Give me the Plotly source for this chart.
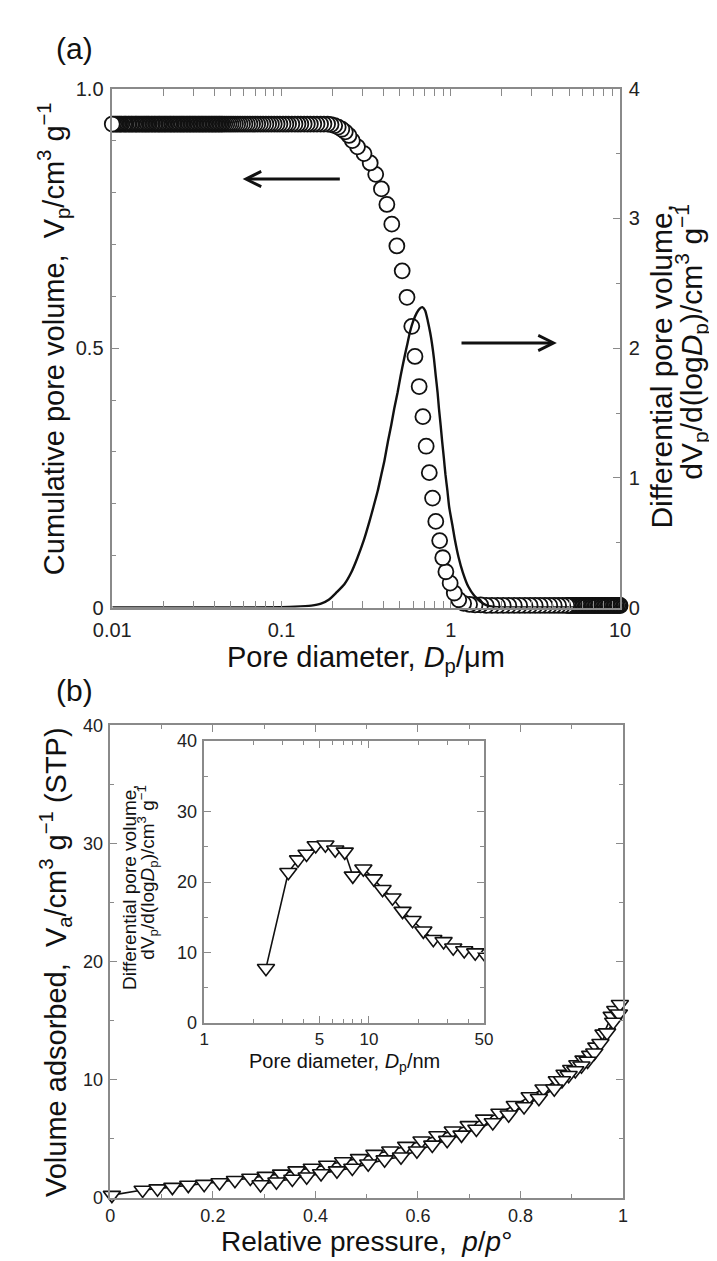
import math
import plotly.graph_objects as go

# ---------------- (a) mercury porosimetry ----------------
# cumulative pore volume (open circles), diameter in um, volume in cm3/g
hg_diam = [
    0.0100, 0.0102, 0.0104, 0.0106, 0.0108, 0.0110, 0.0112, 0.0114, 0.0117, 0.0119,
    0.0121, 0.0124, 0.0126, 0.0129, 0.0131, 0.0134, 0.0137, 0.0139, 0.0142, 0.0145,
    0.0148, 0.0151, 0.0154, 0.0157, 0.0160, 0.0163, 0.0166, 0.0170, 0.0173, 0.0177,
    0.0180, 0.0184, 0.0188, 0.0191, 0.0195, 0.0199, 0.0203, 0.0207, 0.0211, 0.0216,
    0.0220, 0.0224, 0.0229, 0.0233, 0.0238, 0.0243, 0.0248, 0.0253, 0.0258, 0.0263,
    0.0268, 0.0274, 0.0279, 0.0285, 0.0290, 0.0296, 0.0302, 0.0308, 0.0314, 0.0321,
    0.0327, 0.0334, 0.0340, 0.0347, 0.0354, 0.0361, 0.0369, 0.0376, 0.0384, 0.0391,
    0.0399, 0.0407, 0.0415, 0.0424, 0.0432, 0.0441, 0.0450,
    0.0462, 0.0475, 0.0489, 0.0503, 0.0518, 0.0534, 0.0551, 0.0569, 0.0588, 0.0608,
    0.0629, 0.0651, 0.0674, 0.0698, 0.0723, 0.0750, 0.0778, 0.0808, 0.0839, 0.0871,
    0.0905, 0.0941, 0.0978, 0.102, 0.106, 0.110, 0.115, 0.120, 0.125, 0.130,
    0.136, 0.142, 0.148, 0.155, 0.162, 0.170, 0.178, 0.187, 0.196, 0.206,
    0.216, 0.227, 0.238, 0.250, 0.262,
    0.281, 0.307, 0.334, 0.360, 0.389, 0.419, 0.448, 0.480, 0.516, 0.551,
    0.588, 0.614, 0.650, 0.684, 0.715, 0.746, 0.780, 0.815, 0.859, 0.896,
    0.935, 0.991, 1.048, 1.114, 1.19,
    1.29, 1.39, 1.50, 1.62, 1.75, 1.89, 2.04, 2.20, 2.37, 2.55,
    2.74, 2.94, 3.15, 3.37, 3.60, 3.84, 4.08, 4.33, 4.58, 4.84,
    4.94, 5.04, 5.14, 5.24, 5.35, 5.46, 5.57, 5.68, 5.79, 5.91,
    6.03, 6.15, 6.27, 6.40, 6.52, 6.65, 6.79, 6.92, 7.06, 7.20,
    7.35, 7.50, 7.65, 7.80, 7.95, 8.11, 8.28, 8.44, 8.61, 8.78,
    8.96, 9.14, 9.32, 9.51, 9.70, 9.90, 10.0,
]
hg_cumvol = [
    0.932, 0.932, 0.932, 0.932, 0.932, 0.932, 0.932, 0.932, 0.932, 0.932,
    0.932, 0.932, 0.932, 0.932, 0.932, 0.932, 0.932, 0.932, 0.932, 0.932,
    0.932, 0.932, 0.932, 0.932, 0.932, 0.932, 0.932, 0.932, 0.932, 0.932,
    0.932, 0.932, 0.932, 0.932, 0.932, 0.932, 0.932, 0.932, 0.932, 0.932,
    0.932, 0.932, 0.932, 0.932, 0.932, 0.932, 0.932, 0.932, 0.932, 0.932,
    0.932, 0.932, 0.932, 0.932, 0.932, 0.932, 0.932, 0.932, 0.932, 0.932,
    0.932, 0.932, 0.932, 0.932, 0.932, 0.932, 0.932, 0.932, 0.932, 0.932,
    0.932, 0.932, 0.932, 0.932, 0.932, 0.932, 0.932,
    0.932, 0.932, 0.932, 0.932, 0.932, 0.932, 0.932, 0.932, 0.932, 0.932,
    0.932, 0.932, 0.932, 0.932, 0.932, 0.932, 0.932, 0.932, 0.932, 0.932,
    0.932, 0.932, 0.932, 0.932, 0.932, 0.932, 0.932, 0.932, 0.932, 0.932,
    0.932, 0.932, 0.932, 0.932, 0.932, 0.932, 0.932, 0.932, 0.931, 0.929,
    0.926, 0.922, 0.917, 0.910, 0.900,
    0.888, 0.875, 0.857, 0.835, 0.807, 0.777, 0.739, 0.697, 0.649, 0.598,
    0.542, 0.484, 0.426, 0.368, 0.311, 0.260, 0.211, 0.166, 0.129, 0.096,
    0.069, 0.047, 0.028, 0.015, 0.008,
    0.006, 0.005, 0.005, 0.004, 0.004, 0.004, 0.004, 0.004, 0.004, 0.004,
    0.004, 0.004, 0.004, 0.004, 0.004, 0.004, 0.004, 0.004, 0.004, 0.004,
    0.004, 0.004, 0.004, 0.004, 0.004, 0.004, 0.004, 0.004, 0.004, 0.004,
    0.004, 0.004, 0.004, 0.004, 0.004, 0.004, 0.004, 0.004, 0.004, 0.004,
    0.004, 0.004, 0.004, 0.004, 0.004, 0.004, 0.004, 0.004, 0.004, 0.004,
    0.004, 0.004, 0.004, 0.004, 0.004, 0.004, 0.004,
]
# differential pore volume (solid line)
psd_diam = [0.01, 0.05, 0.10, 0.12, 0.15, 0.171, 0.19, 0.212, 0.235, 0.258,
            0.28, 0.307, 0.33, 0.349, 0.37, 0.389, 0.405, 0.425, 0.445, 0.463,
            0.485, 0.505, 0.53, 0.551, 0.575, 0.60, 0.628, 0.655, 0.679, 0.705,
            0.731, 0.755, 0.773, 0.795, 0.815, 0.835, 0.851, 0.87, 0.889, 0.91,
            0.929, 0.955, 0.978, 1.02, 1.057, 1.11, 1.178, 1.27, 1.373, 1.50,
            1.63, 1.80, 2.0, 3.0, 5.0, 10.0]
psd_dv = [0.0, 0.0, 0.003, 0.006, 0.015, 0.03, 0.06, 0.119, 0.18, 0.27,
          0.38, 0.523, 0.66, 0.775, 0.90, 1.028, 1.13, 1.28, 1.41, 1.533,
          1.66, 1.785, 1.92, 2.02, 2.13, 2.21, 2.27, 2.305, 2.316, 2.29,
          2.21, 2.12, 2.04, 1.92, 1.785, 1.66, 1.533, 1.41, 1.28, 1.15,
          1.028, 0.90, 0.775, 0.64, 0.523, 0.39, 0.27, 0.16, 0.093, 0.045,
          0.017, 0.005, 0.001, 0.0, 0.0, 0.0]

# ---------------- (b) N2 isotherm ----------------
ads_p = [0.003, 0.063, 0.092, 0.121, 0.152, 0.183, 0.213, 0.243, 0.273, 0.303,
         0.333, 0.363, 0.393, 0.423, 0.454, 0.485, 0.515, 0.546, 0.577, 0.607,
         0.638, 0.668, 0.699, 0.729, 0.759, 0.789, 0.818, 0.845, 0.871, 0.886,
         0.899, 0.911, 0.923, 0.936, 0.948, 0.962, 0.978, 0.985, 0.994]
ads_v = [0.25, 0.68, 0.80, 0.93, 1.10, 1.18, 1.32, 1.51, 1.70, 1.86,
         2.05, 2.32, 2.54, 2.80, 3.10, 3.36, 3.72, 4.00, 4.40, 4.85,
         5.30, 5.70, 6.15, 6.70, 7.20, 7.85, 8.60, 9.25, 9.95, 10.5,
         10.9, 11.3, 11.7, 12.1, 12.8, 13.9, 15.4, 15.9, 16.4]
des_p = [0.992, 0.981, 0.969, 0.956, 0.944, 0.931, 0.919, 0.907, 0.894, 0.881,
         0.866, 0.836, 0.807, 0.777, 0.746, 0.714, 0.685, 0.657, 0.628, 0.598,
         0.567, 0.535, 0.503, 0.472, 0.442, 0.411, 0.383, 0.355, 0.324, 0.293]
des_v = [15.6, 14.9, 14.0, 13.1, 12.3, 11.6, 11.2, 10.8, 10.4, 9.95,
         9.25, 8.45, 7.75, 7.05, 6.40, 5.85, 5.35, 4.90, 4.50, 4.00,
         3.50, 3.25, 2.90, 2.55, 2.32, 2.08, 1.80, 1.62, 1.38, 1.15]
# inset: BJH differential pore volume, diameter in nm
bjh_d = [2.37, 3.24, 3.71, 4.18, 4.75, 5.44, 6.24, 7.13, 7.98, 9.25,
         10.7, 12.1, 13.9, 16.0, 18.4, 21.4, 24.6, 28.4, 32.5, 37.9, 44.2, 52.0]
bjh_dv = [7.8, 21.4, 23.2, 24.0, 25.2, 25.3, 24.6, 24.3, 20.9, 21.9,
          20.5, 19.0, 17.8, 15.9, 14.6, 13.1, 11.9, 11.6, 10.7, 10.3, 10.0, 9.4]

# tick labels
top_x_ticks = [0.01, 0.1, 1, 10]
top_x_text = ["0.01", "0.1", "1", "10"]
top_yl_ticks = [0, 0.5, 1.0]
top_yl_text = ["0", "0.5", "1.0"]
top_yr_ticks = [0, 1, 2, 3, 4]
bot_x_ticks = [0, 0.2, 0.4, 0.6, 0.8, 1.0]
bot_x_text = ["0", "0.2", "0.4", "0.6", "0.8", "1"]
bot_y_ticks = [0, 10, 20, 30, 40]
ins_x_ticks = [1, 5, 10, 50]
ins_x_text = ["1", "5", "10", "50"]
ins_y_ticks = [0, 10, 20, 30, 40]

# ---------------- figure ----------------
W, H = 717, 1261
FONT = "Liberation Sans, Arial, sans-serif"
AX = "#8a8a8a"
INK = "#111111"


def px(x):
    return x / W


def py(y):
    return 1 - y / H


fig = go.Figure()

# (a) circles, drawn from large to small diameter (intrusion order)
fig.add_trace(go.Scatter(
    x=hg_diam[::-1], y=hg_cumvol[::-1], xaxis="x", yaxis="y", mode="markers",
    marker=dict(symbol="circle", size=15, color="white",
                line=dict(color=INK, width=1.8)),
    cliponaxis=False, showlegend=False))
fig.add_trace(go.Scatter(
    x=psd_diam, y=psd_dv, xaxis="x", yaxis="y2", mode="lines",
    line=dict(color=INK, width=2.4, shape="spline", smoothing=0.6),
    cliponaxis=False, showlegend=False))

TRI = dict(symbol="triangle-down", size=15, color="white",
           line=dict(color=INK, width=1.6))
# (b) isotherm
fig.add_trace(go.Scatter(
    x=ads_p, y=ads_v, xaxis="x2", yaxis="y3", mode="lines+markers",
    line=dict(color=INK, width=1.6), marker=TRI,
    cliponaxis=False, showlegend=False))
fig.add_trace(go.Scatter(
    x=des_p, y=des_v, xaxis="x2", yaxis="y3", mode="lines+markers",
    line=dict(color=INK, width=1.6), marker=TRI,
    cliponaxis=False, showlegend=False))

# inset
fig.add_trace(go.Scatter(
    x=bjh_d, y=bjh_dv, xaxis="x3", yaxis="y4", mode="lines+markers",
    line=dict(color=INK, width=1.6), marker=TRI,
    cliponaxis=True, showlegend=False))


def minor(d):
    return dict(ticks="inside", ticklen=4, tickcolor=AX, tickwidth=1,
                dtick=d, showgrid=False)


def axis(size=18, **kw):
    base = dict(showline=True, linecolor=AX, linewidth=1.5, ticks="inside",
                ticklen=7, tickwidth=1.2, tickcolor=AX, showgrid=False,
                zeroline=False, tickfont=dict(family=FONT, size=size, color="#222"),
                fixedrange=True)
    base.update(kw)
    return base


fig.update_layout(
    width=W, height=H, margin=dict(l=0, r=0, t=0, b=0),
    paper_bgcolor="white", plot_bgcolor="white",
    font=dict(family=FONT, color="#111"),
    xaxis=axis(20, type="log", range=[-2, 1], domain=[px(89), px(619)], anchor="y",
               mirror="allticks", tickvals=top_x_ticks, ticktext=top_x_text,
               ticklabelstandoff=4, minor=minor("D1")),
    yaxis=axis(20, range=[0, 1], domain=[py(599), py(71)], anchor="x",
               tickvals=top_yl_ticks, ticktext=top_yl_text, mirror=False,
               ticklabelstandoff=3, minor=minor(0.1)),
    yaxis2=axis(20, range=[0, 4], overlaying="y", side="right", anchor="x",
                tickvals=top_yr_ticks, mirror=False, ticklabelstandoff=3,
                minor=minor(0.5)),
    xaxis2=axis(18, range=[0, 1], domain=[px(87), px(622)], anchor="y3",
                mirror="allticks", tickvals=bot_x_ticks, ticktext=bot_x_text,
                ticklabelstandoff=1, minor=minor(0.1)),
    yaxis3=axis(18, range=[0, 40], domain=[py(1200), py(719)], anchor="x2",
                mirror="allticks", tickvals=bot_y_ticks, ticklabelstandoff=2,
                minor=minor(5)),
    xaxis3=axis(17, type="log", range=[0, math.log10(50)], domain=[px(185), px(477)],
                anchor="y4", mirror="allticks", tickvals=ins_x_ticks,
                ticktext=ins_x_text, minor=minor("D1")),
    yaxis4=axis(18, range=[0, 40], domain=[py(1022), py(735)], anchor="x3",
                mirror="allticks", tickvals=ins_y_ticks, ticklabelstandoff=2,
                minor=minor(5)),
)

ann = []


def text(x, y, s, size, angle=0, xanchor="center", yanchor="middle"):
    ann.append(dict(x=px(x), y=py(y), xref="paper", yref="paper", text=s,
                    showarrow=False, textangle=angle,
                    xanchor=xanchor, yanchor=yanchor,
                    font=dict(family=FONT, size=size, color="#111")))


text(50, 30, "(a)", 30)
text(50, 683, "(b)", 30)
text(354, 651, "Pore diameter, <i>D</i><sub>p</sub>/\u03bcm", 29)
text(28, 325, "Cumulative pore volume,  V<sub>p</sub>/cm<sup>3</sup> g<sup>\u22121</sup>",
     29, angle=-90)
text(662, 186, "Differential pore volume,", 30, angle=-90, yanchor="top")
text(693, 186, "dV<sub>p</sub>/d(log<i>D</i><sub>p</sub>)/cm<sup>3</sup> g<sup>\u22121</sup>",
     30, angle=-90, yanchor="top")
text(354, 1244, "Relative pressure,  <i>p</i>/<i>p</i>\u00b0", 28)
text(30, 960, "Volume adsorbed,  V<sub>a</sub>/cm<sup>3</sup> g<sup>\u22121</sup> (STP)",
     29, angle=-90)
text(331, 1062, "Pore diameter, <i>D</i><sub>p</sub>/nm", 20)
text(107, 777, "Differential pore volume,", 19, angle=-90, yanchor="top")
text(126, 777, "dV<sub>p</sub>/d(log<i>D</i><sub>p</sub>)/cm<sup>3</sup> g<sup>\u22121</sup>",
     19, angle=-90, yanchor="top")

# arrows (data coordinates of panel a)
ann.append(dict(x=math.log10(0.0589), y=0.826, xref="x", yref="y",
                ax=math.log10(0.2255), ay=0.826, axref="x", ayref="y",
                text="", showarrow=True, arrowhead=5, arrowsize=1,
                arrowwidth=3, arrowcolor=INK, standoff=0))
ann.append(dict(x=math.log10(4.23), y=0.51, xref="x", yref="y",
                ax=math.log10(1.133), ay=0.51, axref="x", ayref="y",
                text="", showarrow=True, arrowhead=5, arrowsize=1,
                arrowwidth=3, arrowcolor=INK, standoff=0))

fig.update_layout(annotations=ann)
fig.write_html("out.html")
